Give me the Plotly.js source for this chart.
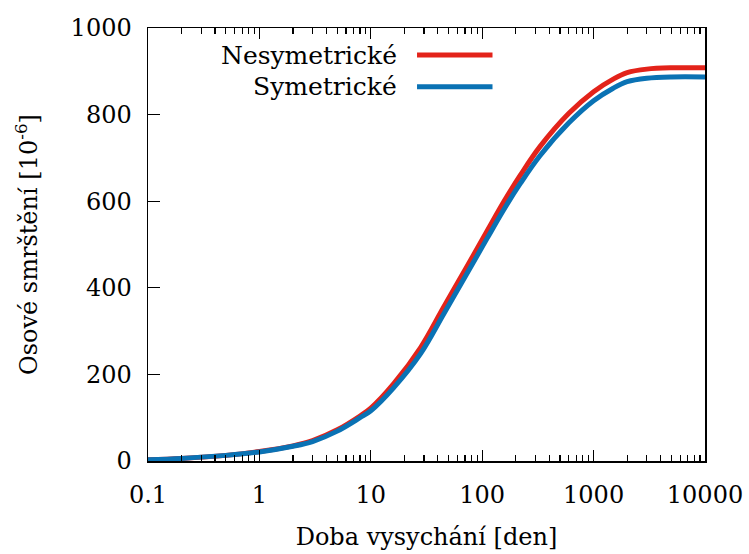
<!DOCTYPE html>
<html>
<head>
<meta charset="utf-8">
<script src="https://cdn.plot.ly/plotly-3.0.1.min.js"></script>
<style>html,body{margin:0;padding:0;background:#fff;}#chart{width:749px;height:554px;}</style>
</head>
<body>
<div id="chart"></div>
<script>
// Data
const days         = [0.1, 0.2, 0.5, 1, 2, 3, 5, 8, 10, 16, 28, 45, 73, 110, 160, 220, 330, 600, 1000, 1500, 2000, 3000, 5000, 10000];
const nesymetricke = [3, 6, 13, 22, 35, 47, 72, 104, 122, 178, 262, 355, 449, 530, 603, 660, 726, 803, 853, 882, 897, 905, 908, 908];
const symetricke   = [3, 6, 13, 21, 34, 45, 69, 100, 116, 169, 248, 339, 433, 513, 585, 641, 705, 781, 832, 861, 876, 884, 887, 887];
const seriesNames = ['Nesymetrické', 'Symetrické'];
const xTickVals = [0.1, 1, 10, 100, 1000, 10000];
const xTickText = ['0.1', '1', '10', '100', '1000', '10000'];
const yTickVals = [0, 200, 400, 600, 800, 1000];

const RED = '#e3231a';
const BLUE = '#0a72b4';
const FONT = 'DejaVu Serif';

const minorVals = [];
for (let d = 0; d < xTickVals.length - 1; d++) {
  for (let k = 2; k <= 9; k++) minorVals.push(xTickVals[d] * k);
}

const traces = [
  {x: days, y: nesymetricke, name: seriesNames[0], type: 'scatter', mode: 'lines',
   line: {color: RED, width: 5, shape: 'spline', smoothing: 1}},
  {x: days, y: symetricke, name: seriesNames[1], type: 'scatter', mode: 'lines',
   line: {color: BLUE, width: 5, shape: 'spline', smoothing: 1}}
];

const lx0 = 0.483, lx1 = 0.6185, ltx = 0.4515;
const ly = [0.9376, 0.8644];
const colors = [RED, BLUE];

const layout = {
  width: 749, height: 554,
  margin: {l: 148, r: 44, t: 28, b: 93, pad: 0},
  paper_bgcolor: '#fff', plot_bgcolor: '#fff',
  showlegend: false,
  font: {family: FONT, size: 24, color: '#000'},
  xaxis: {
    type: 'log', range: [-1, 4],
    tickmode: 'array', tickvals: xTickVals, ticktext: xTickText,
    ticks: 'inside', ticklen: 11, tickwidth: 1.2, tickcolor: '#000',
    showline: true, linecolor: '#000', linewidth: 1.5, mirror: 'ticks',
    showgrid: false, zeroline: false,
    tickfont: {family: FONT, size: 24},
    ticklabelstandoff: 12,
    minor: {tickmode: 'array', tickvals: minorVals, ticks: 'inside', ticklen: 6, tickwidth: 1.2, tickcolor: '#000', showgrid: false},
    title: {text: 'Doba vysychání [den]', font: {family: FONT, size: 24}, standoff: 20}
  },
  yaxis: {
    range: [0, 1000],
    tickmode: 'array', tickvals: yTickVals,
    ticks: 'inside', ticklen: 12, tickwidth: 1.2, tickcolor: '#000',
    showline: true, linecolor: '#000', linewidth: 1.5, mirror: true,
    showgrid: false, zeroline: false,
    tickfont: {family: FONT, size: 24},
    ticklabelstandoff: 10,
    title: {text: 'Osové smrštění [10<sup>-6</sup>]', font: {family: FONT, size: 24}, standoff: 26}
  },
  annotations: seriesNames.map((n, i) => ({
    xref: 'paper', yref: 'paper', x: ltx, y: ly[i], xanchor: 'right', yanchor: 'middle',
    text: n, showarrow: false, font: {family: FONT, size: 25, color: '#000'}
  })),
  shapes: seriesNames.map((n, i) => ({
    type: 'line', xref: 'paper', yref: 'paper', x0: lx0, x1: lx1, y0: ly[i], y1: ly[i],
    line: {color: colors[i], width: 5}
  }))
};

Plotly.newPlot('chart', traces, layout, {displayModeBar: false, staticPlot: true});
</script>
</body>
</html>
